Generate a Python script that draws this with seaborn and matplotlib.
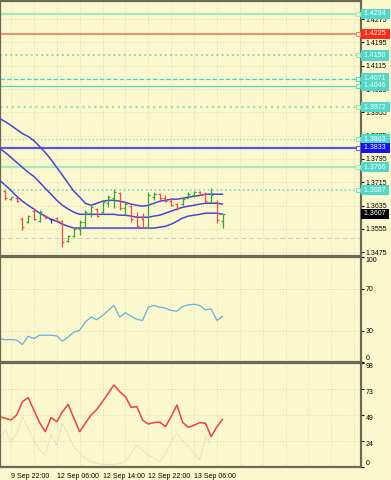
import numpy as np
import pandas as pd
import matplotlib
matplotlib.use("Agg")
from matplotlib import pyplot as plt
from matplotlib import transforms
import seaborn as sns

# hourly bars, index 1..39 (bar 0 sits just off the left edge)
bar_open = [1.3684, 1.3656, 1.3660, 1.3590, 1.3578, 1.3618, 1.3582, 1.3600, 1.3588, 1.3593,
            1.3582, 1.3513, 1.3530, 1.3555, 1.3580, 1.3610, 1.3624, 1.3612, 1.3645, 1.3662,
            1.3678, 1.3625, 1.3634, 1.3600, 1.3590, 1.3562, 1.3665, 1.3675, 1.3662, 1.3652,
            1.3640, 1.3640, 1.3660, 1.3670, 1.3680, 1.3675, 1.3648, 1.3648, 1.3582]
bar_high = [1.3687, 1.3666, 1.3663, 1.3595, 1.3602, 1.3623, 1.3619, 1.3602, 1.3588, 1.3595,
            1.3585, 1.3534, 1.3561, 1.3585, 1.3619, 1.3636, 1.3626, 1.3653, 1.3670, 1.3691,
            1.3681, 1.3647, 1.3636, 1.3612, 1.3609, 1.3681, 1.3681, 1.3677, 1.3670, 1.3660,
            1.3643, 1.3663, 1.3681, 1.3684, 1.3684, 1.3681, 1.3694, 1.3653, 1.3607]
bar_low = [1.3653, 1.3653, 1.3649, 1.3551, 1.3575, 1.3585, 1.3578, 1.3592, 1.3575, 1.3578,
           1.3493, 1.3510, 1.3527, 1.3534, 1.3558, 1.3595, 1.3595, 1.3609, 1.3629, 1.3626,
           1.3619, 1.3602, 1.3578, 1.3558, 1.3558, 1.3558, 1.3653, 1.3653, 1.3646, 1.3633,
           1.3619, 1.3636, 1.3660, 1.3663, 1.3670, 1.3643, 1.3643, 1.3575, 1.3558]
bar_close = [1.3660, 1.3663, 1.3652, 1.3560, 1.3598, 1.3590, 1.3612, 1.3594, 1.3588, 1.3582,
             1.3510, 1.3530, 1.3556, 1.3580, 1.3612, 1.3630, 1.3600, 1.3648, 1.3665, 1.3680,
             1.3625, 1.3640, 1.3590, 1.3565, 1.3562, 1.3670, 1.3675, 1.3660, 1.3650, 1.3638,
             1.3625, 1.3658, 1.3676, 1.3680, 1.3672, 1.3650, 1.3670, 1.3585, 1.3607]

# envelope lines, index 0..39
band_upper = [1.3934, 1.3923, 1.3910, 1.3896, 1.3882, 1.3872, 1.3858, 1.3838, 1.3817, 1.3793,
              1.3766, 1.3739, 1.3711, 1.3684, 1.3664, 1.3643, 1.3636, 1.3643, 1.3650, 1.3653,
              1.3653, 1.3650, 1.3646, 1.3640, 1.3636, 1.3633, 1.3636, 1.3643, 1.3650, 1.3653,
              1.3657, 1.3657, 1.3660, 1.3664, 1.3667, 1.3670, 1.3674, 1.3674, 1.3674, 1.3674]
band_mid = [1.3831, 1.3817, 1.3800, 1.3783, 1.3766, 1.3749, 1.3735, 1.3715, 1.3694, 1.3674,
            1.3653, 1.3636, 1.3623, 1.3612, 1.3605, 1.3605, 1.3605, 1.3605, 1.3605, 1.3605,
            1.3605, 1.3602, 1.3602, 1.3599, 1.3595, 1.3595, 1.3595, 1.3599, 1.3602, 1.3609,
            1.3616, 1.3623, 1.3629, 1.3633, 1.3636, 1.3640, 1.3643, 1.3643, 1.3643, 1.3640]
band_lower = [1.3722, 1.3705, 1.3687, 1.3667, 1.3650, 1.3636, 1.3623, 1.3609, 1.3599, 1.3588,
              1.3581, 1.3571, 1.3564, 1.3558, 1.3558, 1.3558, 1.3558, 1.3558, 1.3558, 1.3558,
              1.3558, 1.3558, 1.3558, 1.3558, 1.3558, 1.3558, 1.3558, 1.3558, 1.3561, 1.3564,
              1.3571, 1.3581, 1.3592, 1.3599, 1.3602, 1.3605, 1.3609, 1.3609, 1.3609, 1.3605]

rsi = [22.3, 21.1, 21.4, 20.8, 16.7, 24.5, 22.3, 25.5, 25.5, 25.5,
       24.8, 19.8, 23.9, 28.6, 30.2, 38.1, 42.8, 40.3, 44.3, 49.1,
       53.8, 42.8, 46.9, 43.7, 40.6, 39.6, 52.2, 53.8, 52.2, 51.3,
       49.1, 48.4, 52.8, 54.4, 55.0, 53.8, 49.7, 50.6, 39.6, 43.4]

stoch_main = [47.4, 45.9, 44.3, 49.0, 61.6, 65.3, 53.7, 41.8, 33.3, 46.5,
              42.7, 52.1, 59.1, 45.9, 33.3, 41.2, 49.0, 54.3, 61.6, 69.4,
              77.3, 71.0, 66.3, 56.2, 56.9, 44.3, 40.5, 41.8, 42.4, 38.0,
              47.4, 58.4, 42.1, 37.4, 39.3, 41.8, 41.2, 28.6, 38.0, 44.9]
stoch_signal = [25.4, 34.9, 23.9, 31.7, 47.4, 36.4, 25.4, 16.0, 11.3, 30.2,
                20.7, 41.1, 30.2, 19.2, 12.9, 8.2, 5.0, 3.5, 2.5, 2.5,
                2.5, 3.5, 5.0, 12.9, 20.7, 16.0, 11.3, 8.2, 5.0, 12.9,
                23.9, 31.7, 25.4, 19.2, 12.9, 6.6, 28.6, 20.7]

# horizontal levels drawn on the price window
levels = [1.4294, 1.4225, 1.4150, 1.4071, 1.4046, 1.3972, 1.3863, 1.3833, 1.3766, 1.3687]
level_colors = ["#a6e8bc", "#f27a64", "#8edcb0", "#38d8d8", "#5cd6b8",
                "#9ee0b0", "#8adcc4", "#5656e2", "#a6e8bc", "#74dcc8"]
level_styles = ["-", "-", ":", "--", "-", ":", ":", "-", "-", ":"]
level_widths = [1.6, 1.2, 1.4, 0.9, 0.9, 1.6, 1.0, 1.6, 1.6, 1.2]
level_tags = ["#52d8c8", "#ff2a18", "#52d8c8", "#52d8c8", "#52d8c8",
              "#52d8c8", "#52d8c8", "#1414ee", "#52d8c8", "#52d8c8"]
last_price = 1.3607

price_ticks = [1.4275, 1.4195, 1.4115, 1.4035, 1.3955, 1.3875, 1.3795, 1.3715, 1.3635, 1.3555, 1.3475]
rsi_ticks = [0, 30, 70, 100]
stoch_ticks = [0, 24.5, 49, 73.5, 98]
stoch_labels = ["0", "24", "49", "73", "98"]
time_ticks = [2, 10, 18, 26, 34]
time_labels = ["9 Sep 22:00", "12 Sep 06:00", "12 Sep 14:00", "12 Sep 22:00", "13 Sep 06:00"]
grid_ticks = list(range(2, 64, 4))

BG = "#fcf8cd"
EDGE = "#6b6955"
GRID = "#d8d3a8"
BLUE = "#4646d8"

sns.set_style("white", rc={"axes.facecolor": BG, "figure.facecolor": BG,
                           "axes.edgecolor": EDGE})
plt.rcParams["font.family"] = ["Liberation Sans", "DejaVu Sans"]

fig = plt.figure(figsize=(3.91, 4.80), dpi=100)
ax1 = fig.add_axes([0.0, 224 / 480, 361 / 391, 255 / 480])
ax2 = fig.add_axes([0.0, 118 / 480, 361 / 391, 105 / 480])
ax3 = fig.add_axes([0.0, 13 / 480, 361 / 391, 104 / 480])

for ax in (ax1, ax2, ax3):
    ax.set_xlim(0.077, 63.19)
    for sp in ax.spines.values():
        sp.set_color(EDGE)
        sp.set_linewidth(1.6)
    ax.yaxis.tick_right()
    ax.tick_params(axis="y", length=2, width=0.8, pad=1.5, labelsize=5,
                   colors="black", left=False, right=True)
    ax.set_xticks(grid_ticks, minor=True)
    ax.grid(True, which="both", axis="x", color=GRID, linestyle=(0, (1, 2)), lw=0.6)
    ax.grid(True, which="major", axis="y", color=GRID, linestyle=(0, (1, 2)), lw=0.6)
    ax.tick_params(axis="x", which="minor", length=0)
for ax in (ax1, ax2):
    ax.set_xticks([])
    ax.tick_params(axis="x", which="both", bottom=False, labelbottom=False)

# ---- price window
ax1.set_ylim(1.3462, 1.4337)
ax1.set_yticks(price_ticks)
ax1.set_yticklabels([f"{t:.4f}" for t in price_ticks])

blend = transforms.blended_transform_factory(ax1.transAxes, ax1.transData)
for lv, c, ls, lw, tag in zip(levels, level_colors, level_styles, level_widths, level_tags):
    ax1.axhline(lv, color=c, ls=ls, lw=lw, zorder=1)
    ax1.plot([0.993], [lv], marker="s", ms=2.4, mfc=BG, mec=c, mew=0.7,
             transform=blend, clip_on=False, zorder=6)
    ax1.text(1.004, lv, f" {lv:.4f} ", transform=blend, ha="left", va="center",
             fontsize=5, color="white", zorder=10, clip_on=False,
             bbox=dict(boxstyle="square,pad=0.22", fc=tag, ec="none"))
ax1.axhline(1.3523, color="#cfcdbd", ls=(0, (4, 3)), lw=0.8, zorder=1)
ax1.text(1.004, last_price, f" {last_price:.4f} ", transform=blend, ha="left", va="center",
         fontsize=5, color="white", zorder=10, clip_on=False,
         bbox=dict(boxstyle="square,pad=0.22", fc="black", ec="none"))

idx = np.arange(40)
for series in (band_upper, band_mid, band_lower):
    sns.lineplot(x=idx, y=series, ax=ax1, color=BLUE, lw=1.1, zorder=3)

bars = pd.DataFrame({"o": bar_open, "h": bar_high, "l": bar_low, "c": bar_close},
                    index=np.arange(1, 40))
for i, r in bars.iterrows():
    if r.c > r.o:
        col = "#2fa82f"
    elif r.c < r.o:
        col = "#f04a4a"
    else:
        col = "#2a2ad0"
    ax1.vlines(i, r.l, r.h, color=col, lw=0.9, zorder=4)
    ax1.hlines(r.o, i - 0.35, i, color=col, lw=0.9, zorder=4)
    ax1.hlines(r.c, i, i + 0.35, color=col, lw=0.9, zorder=4)

# ---- RSI window
ax2.set_ylim(0, 100)
ax2.set_yticks(rsi_ticks)
ax2.set_yticklabels([str(t) for t in rsi_ticks])
sns.lineplot(x=idx, y=rsi, ax=ax2, color="#5fb2e2", lw=0.9)
labs = ax2.get_yticklabels()
labs[0].set_va("bottom")
labs[-1].set_va("top")

# ---- stochastic window
ax3.set_ylim(0, 98)
ax3.set_yticks(stoch_ticks)
ax3.set_yticklabels(stoch_labels)
sns.lineplot(x=np.arange(len(stoch_signal)), y=stoch_signal, ax=ax3,
             color="#e2dcbc", lw=0.8, ls=(0, (2, 1)))
sns.lineplot(x=idx, y=stoch_main, ax=ax3, color="#f04040", lw=1.1)
labs = ax3.get_yticklabels()
labs[0].set_va("bottom")
for lb in labs[1:]:
    lb.set_va("top")

ax3.set_xticks(time_ticks)
ax3.set_xticklabels(time_labels, ha="left", fontsize=5)
ax3.tick_params(axis="x", which="major", length=3, width=0.8, pad=1.5, colors="black")

for ax in (ax1, ax2, ax3):
    ax.set_xlabel("")
    ax.set_ylabel("")

fig.savefig("out.png", dpi=100, facecolor=BG)
